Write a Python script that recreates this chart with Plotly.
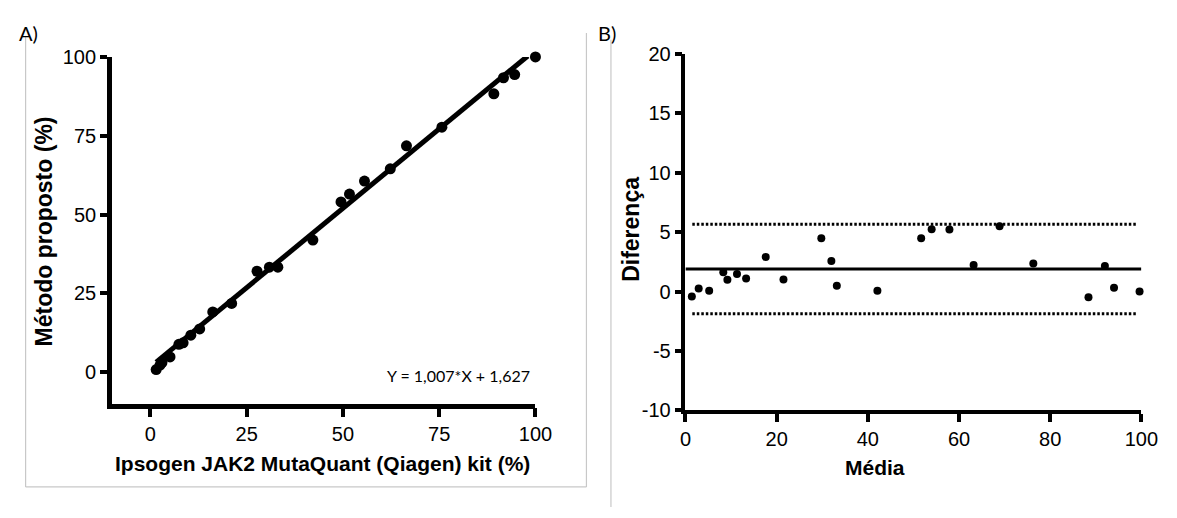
import plotly.graph_objects as go

W, H = 1177, 518

# ---- Panel A data (Ipsogen kit vs proposed method, %) ----
kit_x = [1.5, 2.5, 3.0, 5.1, 7.4, 8.5, 10.5, 12.8, 16.2, 21.1, 27.7, 30.9, 33.1,
         42.2, 49.5, 51.7, 55.6, 62.3, 66.5, 75.7, 89.2, 91.7, 94.6, 100.0]
metodo_y = [0.8, 2.2, 3.0, 4.8, 8.8, 9.3, 11.7, 13.7, 19.1, 21.8, 32.0, 33.3, 33.3,
            41.9, 54.0, 56.5, 60.6, 64.5, 71.8, 77.7, 88.3, 93.4, 94.4, 100.0]
slope, intercept = 1.007, 1.627
fit_x = [1.5, 98.0]
equation = "Y = 1,007*X + 1,627"
a_ticks = [0, 25, 50, 75, 100]

# ---- Panel B data (Bland-Altman) ----
media = [1.4, 2.9, 5.2, 8.3, 9.2, 11.3, 13.3, 17.6, 21.5, 29.8, 32.0, 33.2, 42.1,
         51.7, 54.0, 57.9, 63.2, 68.9, 76.3, 88.4, 92.0, 94.0, 99.6]
diferenca = [-0.42, 0.26, 0.07, 1.62, 1.0, 1.47, 1.1, 2.9, 1.02, 4.5, 2.58, 0.48, 0.07,
             4.5, 5.25, 5.22, 2.23, 5.5, 2.37, -0.47, 2.15, 0.32, 0.0]
bias = 1.9
loa_upper, loa_lower = 5.67, -1.87
bias_x = [0, 100]
loa_x = [1.5, 99.0]
b_xticks = [0, 20, 40, 60, 80, 100]
b_yticks = [-10, -5, 0, 5, 10, 15, 20]
b_yticktext = ["-10", "-5", "0", "5", "10", "15", "20"]

FONT = "Liberation Sans, Arial, Helvetica, sans-serif"
CAL = "Lato, Carlito, Calibri, sans-serif"

fig = go.Figure()

fig.add_trace(go.Scatter(x=fit_x, y=[slope * v + intercept for v in fit_x], mode="lines",
                         line=dict(color="black", width=5), xaxis="x", yaxis="y",
                         showlegend=False, hoverinfo="skip"))
fig.add_trace(go.Scatter(x=kit_x, y=metodo_y, mode="markers",
                         marker=dict(color="black", size=11), xaxis="x", yaxis="y",
                         showlegend=False, cliponaxis=False))

for lv in (loa_upper, loa_lower):
    fig.add_trace(go.Scatter(x=loa_x, y=[lv, lv], mode="lines",
                             line=dict(color="black", width=3, dash="2.5px,2px"),
                             xaxis="x2", yaxis="y2", showlegend=False))
fig.add_trace(go.Scatter(x=bias_x, y=[bias, bias], mode="lines",
                         line=dict(color="black", width=3),
                         xaxis="x2", yaxis="y2", showlegend=False))
fig.add_trace(go.Scatter(x=media, y=diferenca, mode="markers",
                         marker=dict(color="black", size=8), xaxis="x2", yaxis="y2",
                         showlegend=False, cliponaxis=False))

def px_x(p):
    return p / W

def px_y(p):
    return 1 - p / H

tickfont = dict(family=FONT, size=20, color="black")
common = dict(showgrid=False, zeroline=False, showline=True, linecolor="black",
              ticks="outside", tickcolor="black", tickfont=tickfont, fixedrange=True)

fig.update_layout(
    width=W, height=H, autosize=False,
    margin=dict(l=0, r=0, t=0, b=0),
    paper_bgcolor="white", plot_bgcolor="white",
    xaxis=dict(domain=[px_x(108), px_x(540)], range=[-10, 100], tickvals=a_ticks,
               anchor="y", linewidth=4.5, ticklen=9, tickwidth=4, **common),
    yaxis=dict(domain=[px_y(410), px_y(48)], range=[-10, 100], tickvals=a_ticks,
               anchor="x", linewidth=4.5, ticklen=7, tickwidth=4, **common),
    xaxis2=dict(domain=[px_x(693), px_x(1158)], range=[0, 100], tickvals=b_xticks,
                anchor="y2", linewidth=3.5, ticklen=8, tickwidth=3.5, **common),
    yaxis2=dict(domain=[px_y(417), px_y(45)], range=[-10, 20], tickvals=b_yticks,
                ticktext=b_yticktext, anchor="x2", linewidth=3.5, ticklen=7,
                tickwidth=3.5, **common),
)

bold = lambda s: dict(family=FONT, size=s, color="black", weight="bold")

ann = [
    dict(text="Ipsogen JAK2 MutaQuant (Qiagen) kit (%)", x=px_x(323), y=px_y(473),
         font=bold(21)),
    dict(text="Método proposto (%)", x=px_x(39), y=px_y(230), font=bold(23), textangle=-90),
    dict(text="Média", x=px_x(886), y=px_y(477), font=bold(21)),
    dict(text="Diferença", x=px_x(638), y=px_y(228), font=bold(23), textangle=-90),
    dict(text=equation, x=px_x(536), y=px_y(381), xanchor="right",
         font=dict(family=CAL, size=16, color="black")),
    dict(text="A)", x=px_x(11), y=px_y(23), xanchor="left",
         font=dict(family=CAL, size=20, color="black")),
    dict(text="B)", x=px_x(602), y=px_y(23), xanchor="left",
         font=dict(family=CAL, size=20, color="black")),
]
for a in ann:
    a.setdefault("xanchor", "center")
    fig.add_annotation(xref="paper", yref="paper", yanchor="middle", showarrow=False, **a)

gray = dict(color="#c8c8c8", width=1.2)
for x0, y0, x1, y1 in [(20, 27, 20, 497), (20, 497, 592, 497), (592, 23, 592, 497),
                       (617, 30, 617, 518)]:
    fig.add_shape(type="line", xref="paper", yref="paper",
                  x0=px_x(x0), y0=px_y(y0), x1=px_x(x1), y1=px_y(y1), line=gray)

fig.write_html("out.html")
